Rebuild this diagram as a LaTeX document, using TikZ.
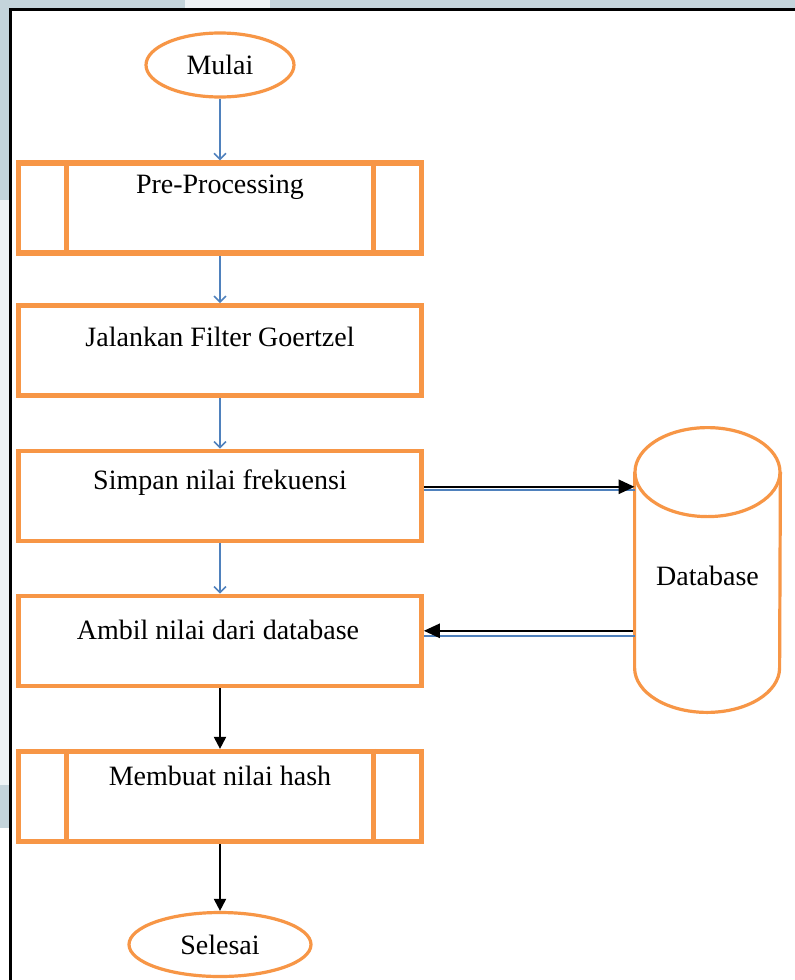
\documentclass[tikz,border=0pt]{standalone}
\usepackage{fontspec}
\setmainfont{Liberation Serif}
\usetikzlibrary{calc, arrows.meta, positioning, shapes.geometric}

\definecolor{boxorange}{HTML}{F79646}
\definecolor{lineblue}{HTML}{4F81BD}
\definecolor{bggray}{HTML}{C4D4DB}
\definecolor{bglight}{HTML}{EEF3F5}

\begin{document}
\begin{tikzpicture}[x=0.5pt, y=-0.5pt,
    txt/.style={font=\fontsize{14}{16}\selectfont, inner sep=0pt},
    terminal/.style={draw=boxorange, line width=1.6pt, ellipse, inner sep=0pt, font=\fontsize{14}{16}\selectfont},
    procbox/.style={draw=boxorange, line width=2.3pt, minimum width=201.5pt, minimum height=45pt, inner sep=0pt},
    subproc/.style={procbox, line width=2.6pt},
    bluearrow/.style={lineblue, line width=0.8pt, -{Straight Barb[length=3pt, width=6pt]}},
    blueline/.style={lineblue, line width=0.9pt},
    blkarrow/.style={black, line width=1pt, -{Triangle[length=6pt, width=6pt]}},
    sidearrow/.style={black, line width=1.3pt, -{Triangle[length=8pt, width=7pt]}}]

      \useasboundingbox (0,0) rectangle (795,980);
      \fill[white] (0,0) rectangle (795,980);
      % background round the frame
      \fill[bggray] (0,0) rectangle (795,9);
      \fill[bglight] (185,0) rectangle (270,9);
      \fill[bggray] (0,0) rectangle (10,200);
      \fill[bglight] (0,200) rectangle (10,785);
      \fill[bggray] (0,785) rectangle (10,828);
      \draw[line width=1.2pt] (10.5,980) -- (10.5,9.5) -- (795,9.5);

      % flow
      \node[terminal, minimum width=74pt, minimum height=32pt] (mulai) at (220,65) {Mulai};
      \node[subproc] (pp) at (220,208) {};
      \node[txt] (pptxt) at (220,187) {Pre-Processing};
      \node[procbox] (jal) at (220,350.5) {};
      \node[txt] (jaltxt) at (220,337) {Jalankan Filter Goertzel};
      \node[procbox] (sim) at (220,496) {};
      \node[txt] (simtxt) at (220,483) {Simpan nilai frekuensi};
      \node[procbox] (amb) at (220,641) {};
      \node[txt] (ambtxt) at (218,630) {Ambil nilai dari database};
      \node[subproc] (mem) at (220,796.5) {};
      \node[txt] (memtxt) at (220,776) {Membuat nilai hash};
      \node[terminal, minimum width=91pt, minimum height=32pt] (selesai) at (220,944.5) {Selesai};

      \foreach \n in {pp, mem} {
          \draw[boxorange, line width=2.6pt] ([xshift=25.3pt]\n.north west) -- ([xshift=25.3pt]\n.south west);
          \draw[boxorange, line width=2.6pt] ([xshift=-25.3pt]\n.north east) -- ([xshift=-25.3pt]\n.south east);
      }

      % database
      \node[txt, minimum width=72.5pt, minimum height=142pt] (db) at (707.5,570) {};
      \node[txt] (dbtxt) at (707.5,576) {Database};
      \draw[boxorange, line width=1.6pt] ([yshift=-22.25pt]db.north) ellipse (36.25pt and 22.25pt);
      \draw[boxorange, line width=1.6pt] ([yshift=-22.25pt]db.north west) -- ([yshift=22.25pt]db.south west)
          arc[start angle=180, end angle=360, x radius=36.25pt, y radius=22.25pt] -- ([yshift=-22.25pt]db.north east);

      % connectors
      \foreach \a/\b in {mulai/pp, pp/jal, jal/sim, sim/amb}
          \draw[bluearrow] (\a) -- (\b);
      \draw[blkarrow] (amb) -- (mem);
      \draw[blkarrow] (mem) -- (selesai);

      \coordinate (s1) at ([yshift=3pt]sim.east);
      \coordinate (s2) at ([yshift=4.6pt]sim.east);
      \draw[blueline] (s1) -- (s1 -| db.west);
      \draw[sidearrow] (s2) -- (s2 -| db.west);
      \coordinate (a1) at ([yshift=2.5pt]amb.east);
      \coordinate (a2) at ([yshift=5.1pt]amb.east);
      \draw[blueline] (a1 -| db.west) -- (a1);
      \draw[sidearrow] ([xshift=-1pt]a2 -| db.west) -- (a2);
\end{tikzpicture}
\end{document}
